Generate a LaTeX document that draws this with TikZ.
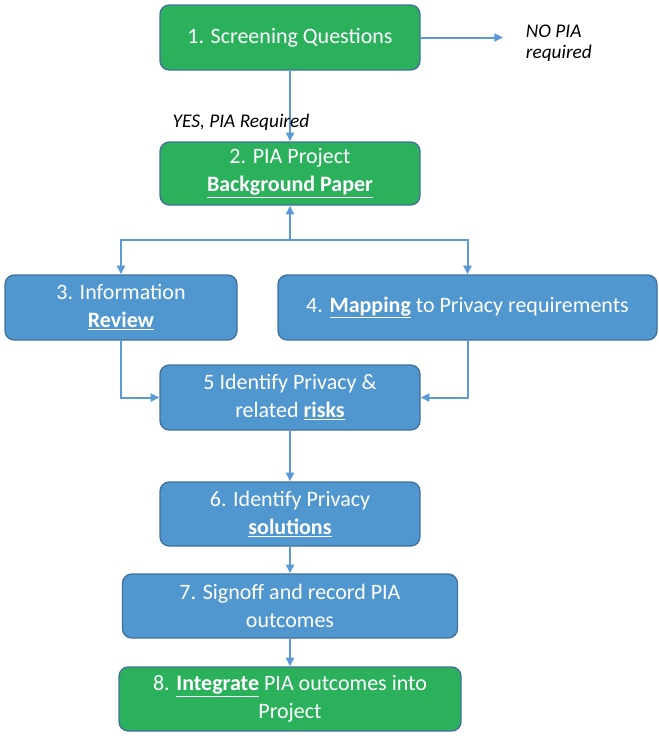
\documentclass[tikz,border=0pt]{standalone}
\usepackage{fontspec}
\setmainfont{Carlito}
\usetikzlibrary{arrows.meta}

\definecolor{piagreen}{RGB}{43,177,92}
\definecolor{piablue}{RGB}{80,150,207}
\definecolor{piaedge}{RGB}{65,113,156}
\definecolor{pialine}{RGB}{91,155,213}

\tikzset{
  paso/.style={draw=piaedge, line width=1pt, rounded corners=7pt, text=white,
    align=center, inner sep=0pt, font=\fontsize{16.5}{21}\selectfont},
  verde/.style={paso, fill=piagreen},
  azul/.style={paso, fill=piablue},
  etiqueta/.style={font=\fontsize{14.5}{15.5}\selectfont\itshape, inner sep=0pt},
  flecha/.style={draw=pialine, line width=1.5pt, -{Triangle[length=6.5pt,width=6pt]}}
}

\begin{document}
\begin{tikzpicture}[x=0.75pt,y=-0.75pt]
    \useasboundingbox (0,0) rectangle (659,736);

    % Pasos
    \node[verde, minimum width=195pt, minimum height=48.75pt] (s1) at (290,37.5) {1. Screening Questions};
    \node[verde, minimum width=195pt, minimum height=47.25pt] (s2) at (290,173.5) {2. PIA Project\\\underline{\textbf{Background Paper}}};
    \node[azul, minimum width=174pt, minimum height=48.75pt] (s3) at (121,307.5) {3. Information\\\underline{\textbf{Review}}};
    \node[azul, minimum width=284.25pt, minimum height=48.75pt] (s4) at (467.5,307.5) {4. \underline{\textbf{Mapping}} to Privacy requirements};
    \node[azul, minimum width=195pt, minimum height=48.75pt] (s5) at (290,397.5) {5 Identify Privacy \&\\related \underline{\textbf{risks}}};
    \node[azul, minimum width=195pt, minimum height=48pt] (s6) at (290,514) {6. Identify Privacy\\\underline{\textbf{solutions}}};
    \node[azul, minimum width=251.25pt, minimum height=48pt] (s7) at (290,606) {7. Signoff and record PIA\\outcomes};
    \node[verde, minimum width=256.5pt, minimum height=48pt] (s8) at (290,699) {8. \underline{\textbf{Integrate}} PIA outcomes into\\Project};

    % Etiquetas
    \node[etiqueta, align=left, anchor=west, inner xsep=17pt] (no) at (503,43) {NO PIA\\required};
    \coordinate (rama) at (290,240);

    % Flechas
    \draw[flecha] (s1.east) -- (s1.east -| no.west);
    \draw[flecha] (s1) -- (s2);
    \node[etiqueta] (si) at (241,122) {YES, PIA Required};
    \draw[flecha] (rama) -- (s2);
    \draw[flecha] (rama) -| (s3);
    \draw[flecha] (rama) -| (s4);
    \draw[flecha] (s3) |- (s5);
    \draw[flecha] (s4) |- (s5);
    \draw[flecha] (s5) -- (s6);
    \draw[flecha] (s6) -- (s7);
    \draw[flecha] (s7) -- (s8);
\end{tikzpicture}
\end{document}
